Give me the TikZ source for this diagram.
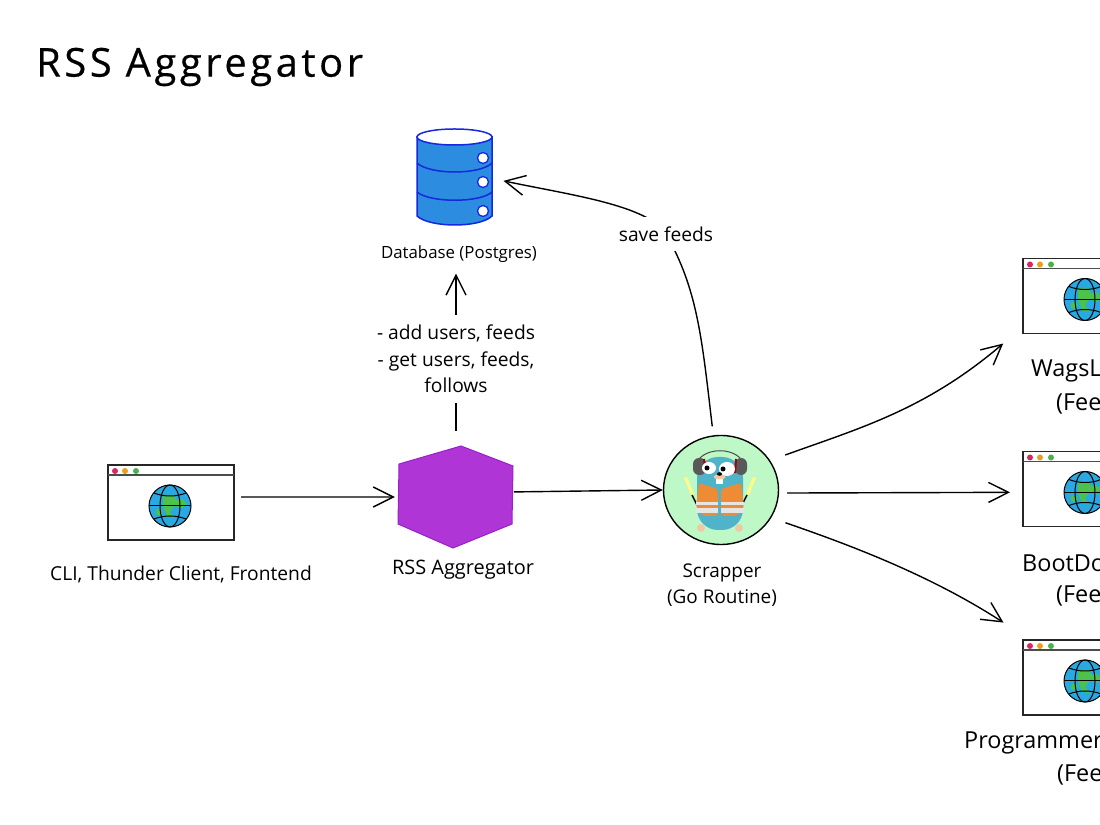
\documentclass[tikz,border=0pt]{standalone}
\usepackage{fontspec}
\setmainfont{Open Sans}
\newfontfamily\titlefont[LetterSpace=9,FakeBold=0.5]{Open Sans}
\usetikzlibrary{arrows.meta,shapes.geometric}
\definecolor{dbblue}{HTML}{2B8CE0}
\definecolor{dbline}{HTML}{1428E0}
\definecolor{hexfill}{HTML}{B035D6}
\definecolor{hexline}{HTML}{9A20C8}
\definecolor{globeblue}{HTML}{29A9E1}
\definecolor{landgreen}{HTML}{4CC24A}
\definecolor{scrapgreen}{HTML}{BDF8C6}
\definecolor{gophblue}{HTML}{4FB3C9}
\definecolor{vest}{HTML}{EE8C35}
\definecolor{skin}{HTML}{EFC9A6}
\definecolor{dotred}{HTML}{D9285F}
\definecolor{dotorange}{HTML}{E8A020}
\definecolor{dotgreen}{HTML}{4CAF50}
\tikzset{
  conn/.style={line width=1.4bp,-{Straight Barb[length=20bp,width=20bp,line width=1.4bp]}},
  plainlabel/.style={font=\fontsize{19.3}{26.5}\selectfont,align=center,inner sep=0pt},
  sitelabel/.style={font=\fontsize{23.5}{26}\selectfont,anchor=west,inner sep=0pt},
  browserwin/.pic={
    \node (box) at (0bp,0bp) [draw,black!85,line width=1.2bp,minimum width=126bp,minimum height=75bp,inner sep=0pt,outer sep=0pt] {};
    \draw [line width=1.6bp,black!70] (-63bp,27.5bp) -- (63bp,27.5bp);
    \fill [dotred] (-56bp,31.5bp) circle (3bp);
    \fill [dotorange] (-46bp,31.5bp) circle (3bp);
    \fill [dotgreen] (-35bp,31.5bp) circle (3bp);
    \begin{scope}[shift={(-1bp,-3.5bp)}]
      \fill [globeblue] (0bp,0bp) circle (21bp);
      \fill [landgreen] (-7bp,11bp) -- (4bp,11bp) -- (6bp,6bp) -- (12bp,7bp) -- (17bp,2bp) -- (12bp,-2bp) -- (4bp,0bp) -- (0bp,-6bp) -- (5bp,-12bp) -- (-3bp,-11bp) -- (-5bp,-5bp) -- (-7bp,0bp) -- cycle;
      \fill [landgreen] (-11bp,-6bp) circle (3.5bp);
      \draw [line width=1bp] (0bp,0bp) circle (21bp);
      \draw [line width=1bp] (0bp,0bp) ellipse (10bp and 21bp);
      \draw [line width=1bp] (-21bp,0bp) -- (21bp,0bp);
      \draw [line width=1bp] (-16bp,13bp) ..controls (-6bp,9bp) and (6bp,9bp) .. (16bp,13bp);
      \draw [line width=1bp] (-16bp,-13bp) ..controls (-6bp,-9bp) and (6bp,-9bp) .. (16bp,-13bp);
    \end{scope}
  }
}
\begin{document}
\begin{tikzpicture}
  \clip (0bp,0bp) rectangle (1100bp,825bp);
  \node (Title) at (36bp,758bp) [anchor=west,inner sep=0pt,font=\titlefont\fontsize{40}{48}\selectfont] {RSS Aggregator};
  \pic (Cli) at (171bp,322.5bp) {browserwin};
  \pic (Wags) at (1086bp,529bp) {browserwin};
  \pic (Boot) at (1086bp,336bp) {browserwin};
  \pic (Prog) at (1086bp,147.5bp) {browserwin};
  \node (CliText) at (181bp,251bp) [plainlabel] {CLI, Thunder Client, Frontend};
  \node (WagsText) at (1031bp,454bp) [sitelabel] {WagsL};
  \node (WagsFeed) at (1056bp,421bp) [sitelabel] {(Fee};
  \node (BootText) at (1022bp,262bp) [sitelabel] {BootDo};
  \node (BootFeed) at (1056bp,229bp) [sitelabel] {(Fee};
  \node (ProgText) at (964bp,82bp) [sitelabel] {Programmer};
  \node (ProgFeed) at (1057bp,50bp) [sitelabel] {(Fee};
  \node (Db) at (456bp,646bp) [minimum width=77bp,minimum height=98bp,inner sep=0pt] {};
  \node (DbText) at (459bp,571bp) [plainlabel,font=\fontsize{16.9}{20}\selectfont] {Database (Postgres)};
  \node (Hex) at (456bp,328bp) [circle,minimum size=116bp,inner sep=0pt] {};
  \node (HexText) at (463bp,255bp) [plainlabel,font=\fontsize{20}{26}\selectfont] {RSS Aggregator};
  \node (Scrapper) at (721bp,335bp) [ellipse,draw,fill=scrapgreen,line width=1.4bp,minimum width=115bp,minimum height=109bp,inner sep=0pt] {};
  \node (ScrapperText) at (722bp,240bp) [plainlabel,font=\fontsize{19}{26}\selectfont] {Scrapper\\(Go Routine)};
  % database
  \filldraw [fill=dbblue,draw=dbline,line width=1.5bp] (417bp,688bp) -- (417bp,609bp) ..controls (430bp,597bp) and (480bp,597bp) .. (492bp,609bp) -- (492bp,688bp) -- cycle;
  \filldraw [fill=white,draw=dbline,line width=1.5bp] (454.5bp,688bp) ellipse (37.5bp and 8bp);
  \draw [draw=dbline,line width=1.5bp] (417bp,662bp) ..controls (430bp,650bp) and (480bp,650bp) .. (492bp,662bp);
  \draw [draw=dbline,line width=1.5bp] (417bp,633bp) ..controls (430bp,622bp) and (480bp,622bp) .. (492bp,633bp);
  \filldraw [fill=white,draw=dbline,line width=1.3bp] (483bp,667bp) circle (5.5bp);
  \filldraw [fill=white,draw=dbline,line width=1.3bp] (483bp,643bp) circle (5.5bp);
  \filldraw [fill=white,draw=dbline,line width=1.3bp] (483bp,614bp) circle (5.5bp);
  % hexagon
  \filldraw [fill=hexfill,draw=hexline,line width=1bp] (399bp,361bp) -- (461bp,379bp) -- (513bp,359bp) -- (512bp,301bp) -- (453bp,277bp) -- (398bp,301bp) -- cycle;
  % gopher
  \draw [line width=1bp,black!70] (697bp,363bp) ..controls (705bp,378bp) and (735bp,378bp) .. (743bp,363bp);
  \fill [yellow!45!white] (684bp,347bp) -- (687bp,348bp) -- (694bp,331bp) -- (691bp,330bp) -- cycle;
  \fill [yellow!45!white] (756bp,347bp) -- (753bp,348bp) -- (746bp,331bp) -- (749bp,330bp) -- cycle;
  \draw [line width=1.5bp] (692bp,330bp) -- (697bp,320bp);
  \draw [line width=1.5bp] (747bp,330bp) -- (742bp,320bp);
  \fill [skin] (701bp,297bp) circle (4bp);
  \fill [skin] (739bp,297bp) circle (4bp);
  \fill [gophblue,rounded corners=21bp] (697bp,295bp) rectangle (743bp,368bp);
  \fill [black!65,rounded corners=6bp] (693bp,350bp) rectangle (706bp,367bp);
  \fill [black!65,rounded corners=6bp] (735bp,350bp) rectangle (747bp,367bp);
  \draw [red!65!black,line width=2bp] (704bp,366bp) -- (706bp,352bp);
  \draw [red!65!black,line width=2bp] (736bp,366bp) -- (735bp,352bp);
  \fill [white] (709bp,357bp) ellipse (7bp and 6bp);
  \fill [white] (727bp,356bp) ellipse (8bp and 7bp);
  \fill (707bp,357bp) circle (2.5bp);
  \fill (723bp,356bp) circle (2.5bp);
  \fill [white] (716bp,341bp) rectangle (723bp,347bp);
  \fill [skin] (719.5bp,348bp) ellipse (6bp and 2.5bp);
  \fill (719.5bp,351bp) ellipse (2.5bp and 1.8bp);
  \fill [vest,rounded corners=3bp] (699bp,342bp) -- (718bp,336bp) -- (718bp,309bp) -- (703bp,309bp) -- (696bp,318bp) -- cycle;
  \fill [vest,rounded corners=3bp] (741bp,342bp) -- (721bp,336bp) -- (721bp,309bp) -- (737bp,309bp) -- (744bp,318bp) -- cycle;
  \fill [white!90!black] (696bp,320bp) rectangle (718bp,323bp);
  \fill [white!90!black] (721bp,320bp) rectangle (744bp,323bp);
  \fill [white!90!black] (696bp,312bp) rectangle (718bp,317bp);
  \fill [white!90!black] (721bp,312bp) rectangle (744bp,317bp);
  % connectors
  \draw [conn,shorten <=7bp,shorten >=3bp] (Clibox.5) -- (Hex.west);
  \draw [conn] (Hex.5) -- (Scrapper.180);
  \draw [conn,shorten <=8bp,shorten >=11bp] (Hex.north) -- (Hex.north |- DbText.south);
  \draw [conn,shorten <=9bp,shorten >=9bp] (Scrapper.98) ..controls (702bp,485bp) and (698bp,535bp) .. (666bp,591bp) .. controls (648bp,620bp) and (570bp,630bp) .. (Db.east);
  \draw [conn,shorten <=16bp,shorten >=26bp] (Scrapper.31) ..controls (860bp,397bp) and (925bp,415bp) .. (Wagsbox.206);
  \draw [conn,shorten <=8bp,shorten >=13bp] (Scrapper.-3) -- (Bootbox.183);
  \draw [conn,shorten <=15bp,shorten >=32bp] (Scrapper.-29) ..controls (850bp,280bp) and (930bp,250bp) .. (Progbox.146);
  % text over the connectors
  \node (AddText) at (456bp,466bp) [plainlabel,fill=white,inner xsep=2pt,inner ysep=10pt] {- add users, feeds\\- get users, feeds,\\follows};
  \node (SaveText) at (666bp,591bp) [plainlabel,fill=white,inner xsep=3pt,inner ysep=10pt] {save feeds};
\end{tikzpicture}
\end{document}
